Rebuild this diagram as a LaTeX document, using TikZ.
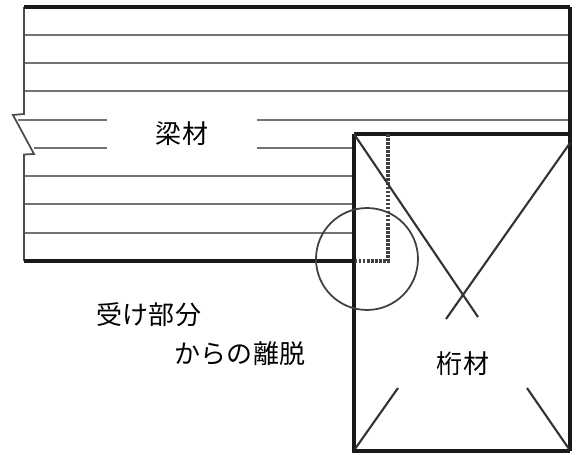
\documentclass[tikz,border=0pt]{standalone}
\usepackage{fontspec}
\setmainfont{Noto Sans CJK JP}
\tikzset{
	grain/.style={line width=1pt,color=black!55},
	heavy/.style={line width=2pt,color=black!90},
	cross/.style={line width=1.2pt,color=black!80},
	label/.style={inner sep=0pt,font=\fontsize{14.8pt}{16pt}\selectfont},
}
\begin{document}
\begin{tikzpicture}[x=0.02cm,y=-0.02cm]
	\useasboundingbox (0,0) rectangle (579,455);
	% beam outline
	\coordinate (tl) at (24,7);
	\coordinate (tr) at (570,7);
	\coordinate (bl) at (24,261);
	\coordinate (joint) at (354,261);
	% girder corners
	\coordinate (gtl) at (354,134);
	\coordinate (gtr) at (570,134);
	\coordinate (gbl) at (354,451);
	\coordinate (gbr) at (570,451);
	\coordinate (seat) at (388,261);
	\coordinate (seattop) at (388,134);
	% grain lines
	\foreach \y in {35,63,91}
		\draw[grain] (24,\y) -- (570,\y);
	\draw[grain] (18,120) -- (107,120);
	\draw[grain] (257,120) -- (570,120);
	\draw[grain] (34,148) -- (107,148);
	\draw[grain] (257,148) -- (354,148);
	\foreach \y in {176,204,233}
		\draw[grain] (24,\y) -- (354,\y);
	% break mark at the left
	\draw[line width=1pt,color=black!70] (tl) -- (24,114) -- (13,115) -- (34,154) -- (24,154.5) -- (bl);
	\draw[heavy] (tl) -- (tr);
	\draw[heavy] (bl) -- (joint);
	% girder
	\draw[heavy] (gtl) -- (gtr);
	\draw[heavy] (gtl) -- (gbl) -- (gbr);
	\draw[heavy] (tr) -- (gbr);
	\draw[line width=1.8pt,color=black!75,dash pattern=on 1.5pt off 0.8pt] (seattop) -- (seat) -- (joint);
	% diagonals, broken round the label
	\coordinate (da) at (478,317);
	\coordinate (db) at (446,319);
	\coordinate (dc) at (398,388);
	\coordinate (dd) at (527,388);
	\draw[cross] (gtl) -- (da);
	\draw[cross] (570,143) -- (db);
	\draw[cross] (355,449) -- (dc);
	\draw[cross] (569,449) -- (dd);
	% detail circle
	\node[circle,draw=black!75,line width=1pt,minimum size=2.04cm,inner sep=0pt] (detail) at (367,259) {};
	\node[label] (beam) at (182,134) {梁材};
	\node[label] (girder) at (463,364) {桁材};
	\node[label] (seatlabel) at (149,315) {受け部分};
	\node[label] (offlabel) at (240,354) {からの離脱};
\end{tikzpicture}
\end{document}
